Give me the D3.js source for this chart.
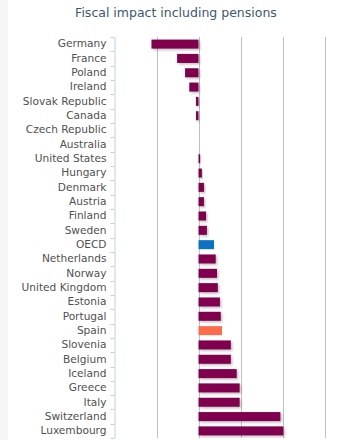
<!DOCTYPE html>
<html>
<head>
<meta charset="utf-8">
<script src="https://cdn.jsdelivr.net/npm/d3@7"></script>
<style>
  body { margin: 0; background: #fff; }
  text { font-family: "Lucida Grande", "DejaVu Sans", sans-serif; }
</style>
</head>
<body>
<div id="chart"></div>
<script>
// countries, top to bottom
const countries = ['Germany', 'France', 'Poland', 'Ireland', 'Slovak Republic', 'Canada',
  'Czech Republic', 'Australia', 'United States', 'Hungary', 'Denmark', 'Austria', 'Finland',
  'Sweden', 'OECD', 'Netherlands', 'Norway', 'United Kingdom', 'Estonia', 'Portugal', 'Spain',
  'Slovenia', 'Belgium', 'Iceland', 'Greece', 'Italy', 'Switzerland', 'Luxembourg'];
// fiscal impact, % of GDP
const values = [-1.12, -0.51, -0.32, -0.22, -0.06, -0.06,
  0, 0, 0.04, 0.08, 0.13, 0.13, 0.18,
  0.2, 0.37, 0.41, 0.44, 0.46, 0.51, 0.53, 0.56,
  0.77, 0.77, 0.91, 0.98, 0.98, 1.95, 2.02];
const gridTicks = [-1, 0, 1, 2, 3];
const highlight = {'OECD': '#0a72c2', 'Spain': '#ff6c4c'};

const data = countries.map((c, i) => ({name: c, value: values[i]}));

const width = 339, height = 440;
const svg = d3.select('#chart').append('svg')
    .attr('width', width)
    .attr('height', height);

// light strip on the left edge
svg.append('rect')
    .attr('x', 0).attr('y', 0)
    .attr('width', 8).attr('height', height)
    .attr('fill', '#f5f5f5');

const defs = svg.append('defs');
const shadow = defs.append('filter')
    .attr('id', 'shadow')
    .attr('x', '-20%').attr('y', '-40%')
    .attr('width', '140%').attr('height', '180%');
shadow.append('feDropShadow')
    .attr('dx', 1.5).attr('dy', 1.5)
    .attr('stdDeviation', 0.9)
    .attr('flood-color', '#000')
    .attr('flood-opacity', 0.25);

const plotTop = 37, plotBottom = 438;
const xScale = d3.scaleLinear().domain([-2, 3]).range([114.5, 324.5]);
const yScale = d3.scaleBand().domain(countries).range([plotTop, plotBottom]).paddingInner(0.37).paddingOuter(0.18);

// title
svg.append('text')
    .attr('x', 176)
    .attr('y', 17)
    .attr('text-anchor', 'middle')
    .attr('fill', '#3e576f')
    .style('font-size', '12.5px')
    .text('Fiscal impact including pensions');

// grid lines
svg.append('g').selectAll('line')
    .data(gridTicks)
    .join('line')
    .attr('x1', d => Math.round(xScale(d)) + 0.5)
    .attr('x2', d => Math.round(xScale(d)) + 0.5)
    .attr('y1', plotTop)
    .attr('y2', plotBottom)
    .attr('stroke', '#c0c0c0')
    .attr('stroke-width', 1);

// bars
svg.append('g').selectAll('rect')
    .data(data.filter(d => d.value !== 0))
    .join('rect')
    .attr('x', d => xScale(Math.min(0, d.value)))
    .attr('y', d => yScale(d.name))
    .attr('width', d => Math.abs(xScale(d.value) - xScale(0)))
    .attr('height', yScale.bandwidth())
    .attr('fill', d => highlight[d.name] || '#80004e')
    .attr('filter', d => highlight[d.name] ? null : 'url(#shadow)');

// category axis
const axisX = 114.5;
const yAxis = d3.axisLeft(yScale).tickSize(0).tickPadding(8);
const axisG = svg.append('g')
    .attr('transform', `translate(${axisX},0)`)
    .call(yAxis);
axisG.select('.domain').attr('stroke', '#c0d0e0');
axisG.selectAll('text')
    .attr('fill', '#505050')
    .style('font-size', '10.6px')
    .style('font-family', '"Lucida Grande", "DejaVu Sans", sans-serif');

// tick marks between categories
const step = yScale.step();
const boundaries = d3.range(countries.length + 1).map(i => plotTop + i * step);
svg.append('g').selectAll('line')
    .data(boundaries)
    .join('line')
    .attr('x1', axisX - 4)
    .attr('x2', axisX)
    .attr('y1', d => Math.round(d) + 0.5)
    .attr('y2', d => Math.round(d) + 0.5)
    .attr('stroke', '#c0d0e0');
</script>
</body>
</html>
